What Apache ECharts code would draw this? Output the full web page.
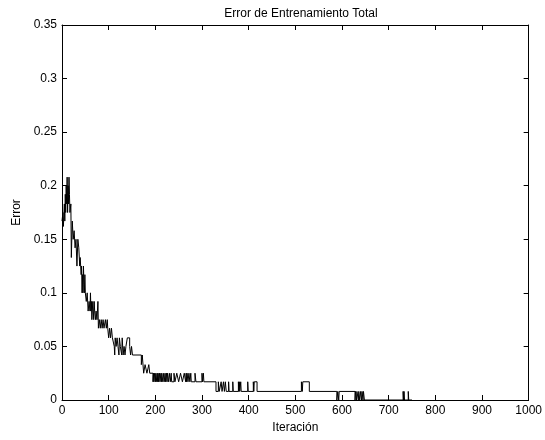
<!DOCTYPE html>
<html>
  <meta charset="UTF-8">
  <title>Error de Entrenamiento Total</title>
  <style type="text/css">
    html,body{margin:0px;height:100%;width:100%;background:#fff}
    .container{width:545px;height:440px}
  </style>
  <script type="text/javascript" src="https://cdn.jsdelivr.net/npm/echarts@6/dist/echarts.min.js"></script>
  <body>
    <div id="chart" class="container"></div>

    <script>
      // iteration where the error changes, and the error from that iteration on
      var iterations = [
        0, 2, 3, 5, 6, 7, 8, 9, 10, 11, 12, 13, 14, 15, 16, 17, 19, 20, 22, 24,
        26, 28, 30, 32, 34, 36, 38, 39, 41, 42, 43, 44, 45, 46, 47, 48, 49, 50, 52, 54,
        56, 58, 60, 61, 62, 63, 64, 66, 67, 68, 69, 70, 72, 73, 75, 77, 78, 80, 82, 84,
        86, 88, 90, 93, 95, 97, 98, 100, 102, 104, 106, 108, 112, 113, 114, 116, 118, 120, 122, 123,
        125, 128, 129, 131, 133, 135, 137, 140, 145, 147, 149, 151, 170, 172, 175, 178, 182, 186, 188, 195,
        196, 197, 198, 200, 201, 202, 204, 205, 206, 207, 209, 210, 212, 213, 214, 216, 218, 219, 221, 222,
        224, 225, 226, 228, 230, 232, 234, 235, 240, 242, 246, 250, 254, 258, 262, 265, 266, 267, 268, 270,
        272, 274, 276, 277, 285, 287, 300, 301, 303, 304, 330, 335, 337, 341, 343, 346, 348, 350, 352, 357,
        358, 366, 367, 378, 379, 380, 381, 383, 384, 398, 399, 410, 411, 412, 418, 513, 515, 516, 530, 589,
        591, 593, 594, 628, 629, 631, 632, 635, 636, 638, 640, 642, 643, 645, 646, 648, 731, 732, 733, 734,
        742, 743, 750
      ];
      var errors = [
        0.167, 0.175, 0.162, 0.183, 0.167, 0.192, 0.175, 0.2, 0.183, 0.208, 0.175, 0.2, 0.183, 0.208, 0.192, 0.175, 0.183, 0.133, 0.167, 0.15,
        0.158, 0.142, 0.15, 0.125, 0.15, 0.142, 0.125, 0.133, 0.117, 0.125, 0.1, 0.117, 0.1, 0.125, 0.108, 0.1, 0.117, 0.1, 0.092, 0.1,
        0.083, 0.092, 0.083, 0.1, 0.083, 0.092, 0.075, 0.092, 0.083, 0.075, 0.092, 0.083, 0.075, 0.083, 0.075, 0.092, 0.067, 0.075, 0.067, 0.075,
        0.067, 0.075, 0.067, 0.075, 0.067, 0.075, 0.067, 0.058, 0.067, 0.058, 0.067, 0.058, 0.05, 0.042, 0.058, 0.05, 0.058, 0.05, 0.042, 0.058,
        0.05, 0.042, 0.058, 0.042, 0.05, 0.042, 0.05, 0.058, 0.05, 0.042, 0.05, 0.042, 0.033, 0.042, 0.025, 0.033, 0.025, 0.033, 0.025, 0.017,
        0.025, 0.017, 0.025, 0.017, 0.025, 0.017, 0.025, 0.017, 0.025, 0.017, 0.025, 0.017, 0.025, 0.017, 0.025, 0.017, 0.025, 0.017, 0.025, 0.017,
        0.025, 0.017, 0.025, 0.017, 0.025, 0.017, 0.025, 0.017, 0.025, 0.017, 0.025, 0.017, 0.025, 0.017, 0.025, 0.017, 0.025, 0.017, 0.025, 0.017,
        0.025, 0.017, 0.025, 0.017, 0.025, 0.017, 0.025, 0.017, 0.025, 0.017, 0.008, 0.017, 0.008, 0.017, 0.008, 0.017, 0.008, 0.017, 0.008, 0.017,
        0.008, 0.017, 0.008, 0.017, 0.008, 0.017, 0.008, 0.017, 0.008, 0.017, 0.008, 0.017, 0.008, 0.017, 0.008, 0.017, 0.008, 0.017, 0.008, 0,
        0.008, 0, 0.008, 0, 0.008, 0, 0.008, 0, 0.008, 0, 0.008, 0, 0.008, 0, 0.008, 0, 0.008, 0, 0.008, 0,
        0.008, 0, 0
      ];
      var xTicks = [0, 1000, 100];   // min, max, interval
      var yTicks = [0, 0.35, 0.05];

      var points = iterations.map(function (it, i) { return [it, errors[i]]; });

      var font = 'Liberation Sans, Arial, sans-serif';
      var labelStyle = { color: '#000', fontSize: 12, fontFamily: font };

      function xAxis(pos, labels) {
        return {
          type: 'value', position: pos, min: xTicks[0], max: xTicks[1], interval: xTicks[2],
          axisLine: { onZero: false, lineStyle: { color: '#000', width: 1 } },
          axisTick: { inside: true, length: 5, lineStyle: { color: '#000' } },
          axisLabel: labels ? Object.assign({ margin: 5, formatter: function (v) { return String(v); } }, labelStyle) : { show: false },
          splitLine: { show: false },
          name: labels ? 'Iteración' : '', nameLocation: 'middle', nameGap: 20,
          nameTextStyle: labelStyle
        };
      }
      function yAxis(pos, labels) {
        return {
          type: 'value', position: pos, min: yTicks[0], max: yTicks[1], interval: yTicks[2],
          axisLine: { onZero: false, lineStyle: { color: '#000', width: 1 } },
          axisTick: { inside: true, length: 5, lineStyle: { color: '#000' } },
          axisLabel: labels ? Object.assign({ margin: 5 }, labelStyle) : { show: false },
          splitLine: { show: false },
          name: labels ? 'Error' : '', nameLocation: 'middle', nameGap: 36,
          nameTextStyle: labelStyle
        };
      }

      var chart = echarts.init(document.getElementById('chart'), null, { renderer: 'canvas' });
      chart.setOption({
        backgroundColor: '#fff',
        animation: false,
        title: {
          text: 'Error de Entrenamiento Total',
          left: 296, top: 3, textAlign: 'center',
          textStyle: { color: '#000', fontSize: 12, fontWeight: 'normal', fontFamily: font }
        },
        grid: { left: 62, right: 13, top: 25, bottom: 40 },
        xAxis: [xAxis('bottom', true), xAxis('top', false)],
        yAxis: [yAxis('left', true), yAxis('right', false)],
        series: [{
          type: 'line',
          step: 'end',
          data: points,
          showSymbol: false,
          lineStyle: { color: '#000', width: 1 }
        }]
      });
    </script>
  </body>
</html>
